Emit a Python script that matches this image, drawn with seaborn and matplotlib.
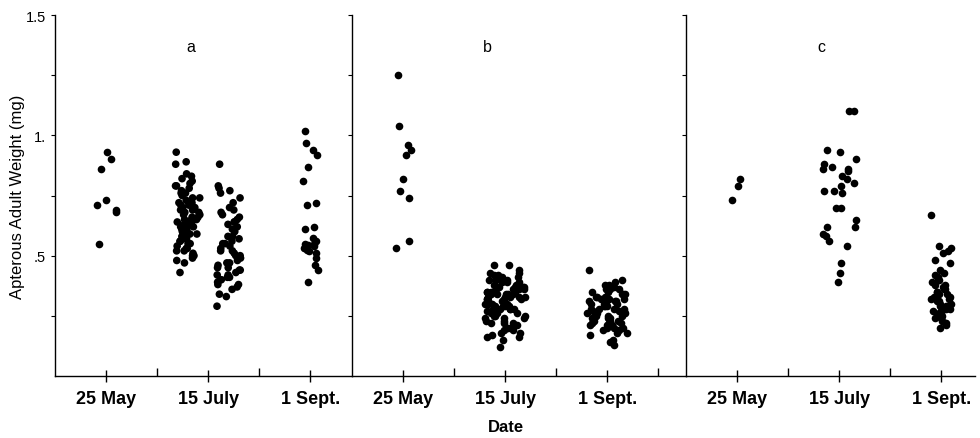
import matplotlib
matplotlib.use("Agg")
import matplotlib.pyplot as plt
from matplotlib.ticker import FixedLocator
import numpy as np
import pandas as pd
import seaborn as sns

# categories
dates = ["25 May", "15 July", "1 Sept."]
panel_letters = ["a", "b", "c"]

# panel a (weights in mg)
a_may = [0.93, 0.90, 0.86, 0.73, 0.69, 0.68, 0.71, 0.55]
a_july_left = [0.93, 0.89, 0.88, 0.84, 0.83, 0.82, 0.81, 0.80, 0.79, 0.78, 0.77, 0.76,
               0.75, 0.74, 0.73, 0.72, 0.71, 0.70, 0.70, 0.69, 0.68, 0.68, 0.67, 0.66,
               0.66, 0.65, 0.65, 0.64, 0.64, 0.63, 0.63, 0.62, 0.62, 0.61, 0.61, 0.60,
               0.60, 0.59, 0.59, 0.58, 0.58, 0.57, 0.56, 0.56, 0.55, 0.54, 0.53, 0.52,
               0.51, 0.50, 0.50, 0.49, 0.47, 0.72, 0.67, 0.63, 0.57, 0.53, 0.79, 0.76,
               0.74, 0.71, 0.69, 0.65, 0.62, 0.59, 0.55, 0.52, 0.48, 0.43]
a_july_right = [0.88, 0.79, 0.78, 0.77, 0.76, 0.74, 0.72, 0.70, 0.69, 0.67, 0.66, 0.65,
                0.64, 0.63, 0.62, 0.60, 0.58, 0.57, 0.56, 0.55, 0.54, 0.53, 0.52, 0.51,
                0.50, 0.49, 0.48, 0.47, 0.46, 0.45, 0.44, 0.43, 0.42, 0.41, 0.40, 0.40,
                0.39, 0.38, 0.36, 0.34, 0.33, 0.29, 0.68, 0.64, 0.61, 0.58, 0.55, 0.52,
                0.50, 0.47, 0.45, 0.42, 0.38, 0.44, 0.41, 0.37]
a_sept = [1.02, 0.97, 0.94, 0.92, 0.87, 0.81, 0.72, 0.71, 0.62, 0.61, 0.575, 0.56,
          0.55, 0.545, 0.54, 0.53, 0.525, 0.52, 0.51, 0.55, 0.49, 0.46, 0.44, 0.39]

# panel b
b_may = [1.25, 1.04, 0.96, 0.94, 0.92, 0.82, 0.77, 0.74, 0.56, 0.53]
b_july_left = [0.46, 0.44, 0.43, 0.42, 0.41, 0.41, 0.40, 0.40, 0.39, 0.39, 0.38, 0.38,
               0.37, 0.37, 0.37, 0.36, 0.36, 0.36, 0.35, 0.35, 0.35, 0.34, 0.34, 0.34,
               0.33, 0.33, 0.33, 0.33, 0.32, 0.32, 0.32, 0.31, 0.31, 0.31, 0.30, 0.30,
               0.30, 0.29, 0.29, 0.29, 0.28, 0.28, 0.28, 0.27, 0.27, 0.26, 0.26, 0.25,
               0.25, 0.24, 0.24, 0.23, 0.23, 0.22, 0.22, 0.21, 0.20, 0.19, 0.18, 0.16,
               0.15, 0.12]
b_july_right = [0.46, 0.43, 0.42, 0.41, 0.40, 0.39, 0.37, 0.36, 0.35, 0.34, 0.34, 0.33,
                0.32, 0.31, 0.30, 0.29, 0.28, 0.27, 0.26, 0.25, 0.24, 0.22, 0.21, 0.20,
                0.19, 0.18, 0.17, 0.16]
b_sept_left = [0.44, 0.40, 0.39, 0.38, 0.37, 0.36, 0.36, 0.35, 0.35, 0.34, 0.34, 0.33,
               0.33, 0.32, 0.32, 0.31, 0.31, 0.30, 0.30, 0.30, 0.29, 0.29, 0.28, 0.28,
               0.28, 0.27, 0.27, 0.26, 0.26, 0.25, 0.25, 0.24, 0.24, 0.23, 0.23, 0.22,
               0.22, 0.21, 0.21, 0.20, 0.20, 0.19, 0.18, 0.17, 0.15, 0.14, 0.13]
b_sept_right = [0.38, 0.36, 0.34, 0.33, 0.32, 0.31, 0.30, 0.29, 0.28, 0.27, 0.26, 0.25,
                0.25, 0.24, 0.23, 0.22, 0.21, 0.20, 0.19, 0.18]

# panel c
c_may = [0.79, 0.82, 0.73]
c_july = [1.10, 1.10, 0.94, 0.93, 0.90, 0.88, 0.87, 0.86, 0.86, 0.85, 0.83, 0.82,
          0.79, 0.80, 0.77, 0.76, 0.77, 0.70, 0.70, 0.65, 0.62, 0.62, 0.59, 0.58,
          0.56, 0.54, 0.47, 0.43, 0.39]
c_sept = [0.67, 0.54, 0.53, 0.52, 0.51, 0.48, 0.47, 0.44, 0.43, 0.42, 0.41, 0.40,
          0.40, 0.39, 0.38, 0.38, 0.37, 0.36, 0.36, 0.35, 0.35, 0.34, 0.34, 0.33,
          0.33, 0.32, 0.32, 0.31, 0.31, 0.30, 0.30, 0.29, 0.29, 0.28, 0.28, 0.27,
          0.27, 0.26, 0.26, 0.25, 0.25, 0.24, 0.24, 0.23, 0.22, 0.22, 0.21, 0.20]

# y axis ticks
ytick_major = [0.5, 1.0, 1.5]
ytick_labels = [".5", "1.", "1.5"]
ytick_minor = [0.25, 0.75, 1.25]


def build_frame(groups):
    rows = []
    for date, samples in groups.items():
        for k, values in enumerate(samples):
            for v in values:
                rows.append({"date": date, "sample": f"s{k}", "weight": v})
    return pd.DataFrame(rows)


# panel b strips are drawn as one blob each, panel a July keeps its two columns
panels = [
    build_frame({"25 May": [a_may], "15 July": [a_july_left, a_july_right], "1 Sept.": [a_sept]}),
    build_frame({"25 May": [b_may], "15 July": [b_july_left + b_july_right],
                 "1 Sept.": [b_sept_left + b_sept_right]}),
    build_frame({"25 May": [c_may], "15 July": [c_july], "1 Sept.": [c_sept]}),
]

# how wide each strip is spread
jitters = [
    {"25 May": 0.12, "15 July": 0.25, "1 Sept.": 0.08},
    {"25 May": 0.08, "15 July": 0.2, "1 Sept.": 0.2},
    {"25 May": 0.1, "15 July": 0.17, "1 Sept.": 0.1},
]
xlims = [(-0.5, 2.41), (-0.5, 2.77), (-0.5, 2.33)]

sns.set_theme(style="ticks")
plt.rcParams['font.family'] = ['Liberation Sans', 'DejaVu Sans']
plt.rcParams['text.color'] = 'black'
plt.rcParams['axes.labelcolor'] = 'black'
plt.rcParams['xtick.color'] = 'black'
plt.rcParams['ytick.color'] = 'black'
np.random.seed(3)

fig = plt.figure(figsize=(9.8, 4.39), dpi=100)
gs = fig.add_gridspec(1, 3, width_ratios=[297, 334, 289], left=55 / 980, right=975 / 980,
                      bottom=1 - 377 / 439, top=1 - 16 / 439, wspace=0)

for i, df in enumerate(panels):
    ax = fig.add_subplot(gs[0, i])
    for date in dates:
        sub = df[df["date"] == date]
        n = sub["sample"].nunique()
        if n > 1:
            sns.stripplot(data=sub, x="date", y="weight", order=dates, hue="sample",
                          dodge=True, palette=["black"] * n, jitter=jitters[i][date],
                          size=5.5, linewidth=0, legend=False, ax=ax)
        else:
            sns.stripplot(data=sub, x="date", y="weight", order=dates, color="black",
                          jitter=jitters[i][date], size=5.5, linewidth=0, ax=ax)
    ax.set_xlim(*xlims[i])
    ax.set_ylim(0, 1.5)
    ax.set_xlabel("")
    ax.set_ylabel("")
    ax.xaxis.set_minor_locator(FixedLocator([0.5, 1.5, 2.5]))
    ax.yaxis.set_major_locator(FixedLocator(ytick_major))
    ax.yaxis.set_minor_locator(FixedLocator(ytick_minor))
    ax.set_xticks(range(len(dates)))
    ax.set_xticklabels(dates, fontsize=13, fontweight="bold")
    ax.tick_params(axis="x", which="major", direction="inout", length=8, width=1, color="black", pad=6)
    ax.tick_params(axis="x", which="minor", direction="in", length=6, width=1, color="black")
    ax.tick_params(axis="y", which="both", direction="out", length=3, width=0.8, color="black")
    if i == 0:
        ax.set_yticklabels(ytick_labels, fontsize=10.5)
        ax.set_ylabel("Apterous Adult Weight (mg)", fontsize=12)
        ax.yaxis.set_label_coords(-0.1, 0.5)
    else:
        ax.tick_params(axis="y", labelleft=False)
    sns.despine(ax=ax)
    for s in ["left", "bottom"]:
        ax.spines[s].set_color("black")
        ax.spines[s].set_linewidth(1)
    ax.text(0.83, 1.37, panel_letters[i], ha="center", va="center", fontsize=11.5)

fig.text(506 / 980, 1 - 428 / 439, "Date", ha="center", va="center", fontsize=12, fontweight="bold")

fig.savefig("out.png", dpi=100, facecolor="white")
